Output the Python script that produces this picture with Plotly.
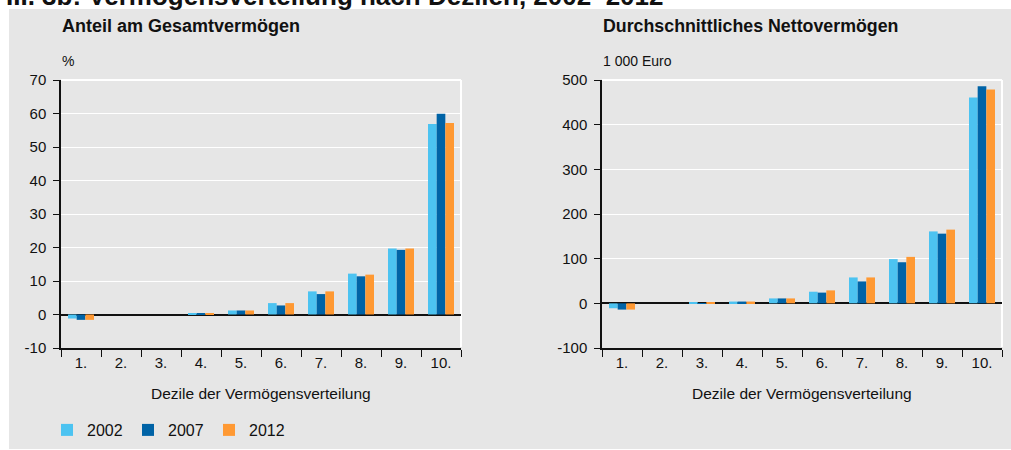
import plotly.graph_objects as go

W, H = 1011, 450

deciles = ["1.", "2.", "3.", "4.", "5.", "6.", "7.", "8.", "9.", "10."]
years = ["2002", "2007", "2012"]

share_2002 = [-1.2, 0.0, 0.0, 0.4, 1.2, 3.4, 6.9, 12.2, 19.7, 56.9]
share_2007 = [-1.6, 0.0, 0.0, 0.4, 1.2, 2.7, 6.1, 11.4, 19.3, 59.9]
share_2012 = [-1.6, 0.0, 0.0, 0.4, 1.2, 3.4, 6.9, 11.9, 19.7, 57.2]

nw_2002 = [-11, 0, 1, 4, 11, 26, 58, 99, 161, 461]
nw_2007 = [-14, 0, 0.5, 4, 11, 24, 49, 92, 156, 486]
nw_2012 = [-14, 0, 1, 4, 11, 29, 58, 104, 165, 479]

share_ticks = [-10, 0, 10, 20, 30, 40, 50, 60, 70]
share_tick_labels = ["-10", "0", "10", "20", "30", "40", "50", "60", "70"]
nw_ticks = [-100, 0, 100, 200, 300, 400, 500]
nw_tick_labels = ["-100", "0", "100", "200", "300", "400", "500"]

colors = ["#4cc3f1", "#0063a6", "#ff9933"]
FONT = "Liberation Sans, Arial, sans-serif"
BG = "#e6e6e6"

def px_x(p):
    return p / W

def px_y(p):
    return 1 - p / H

fig = go.Figure()
for name, vals, c in zip(years, [share_2002, share_2007, share_2012], colors):
    fig.add_trace(go.Bar(x=deciles, y=vals, name=name, marker=dict(color=c, line=dict(width=0)),
                         xaxis="x", yaxis="y", legendgroup=name))
for name, vals, c in zip(years, [nw_2002, nw_2007, nw_2012], colors):
    fig.add_trace(go.Bar(x=deciles, y=vals, name=name, marker=dict(color=c, line=dict(width=0)),
                         xaxis="x2", yaxis="y2", legendgroup=name, showlegend=False))

ydom = [px_y(348), px_y(80)]
xcommon = dict(type="category", tickson="boundaries", ticks="outside", ticklen=7, tickwidth=1.3,
               tickcolor="#111", showline=True, linecolor="#111", linewidth=1.5, showgrid=False,
               tickfont=dict(family=FONT, size=15, color="#111"), fixedrange=True, automargin=False)
ycommon = dict(ticks="outside", ticklen=6, tickwidth=1.3, tickcolor="#111", showline=True,
               linecolor="#111", linewidth=1.5, showgrid=True, gridcolor="white", gridwidth=1.3,
               zeroline=True, zerolinecolor="#111", zerolinewidth=1.5,
               tickfont=dict(family=FONT, size=15, color="#111"), ticklabelstandoff=4,
               fixedrange=True, automargin=False, tickmode="array")

fig.update_layout(
    width=W, height=H,
    margin=dict(l=0, r=0, t=0, b=0, pad=0, autoexpand=False),
    paper_bgcolor="white", plot_bgcolor=BG,
    barmode="group", bargap=0.35, bargroupgap=0,
    xaxis=dict(domain=[px_x(61), px_x(461)], anchor="y", **xcommon),
    yaxis=dict(domain=ydom, anchor="x", range=[-10, 70], tickvals=share_ticks,
               ticktext=share_tick_labels, **ycommon),
    xaxis2=dict(domain=[px_x(602), px_x(1002)], anchor="y2", **xcommon),
    yaxis2=dict(domain=ydom, anchor="x2", range=[-100, 500], tickvals=nw_ticks,
                ticktext=nw_tick_labels, **ycommon),
    legend=dict(orientation="h", x=px_x(47), y=px_y(430), yanchor="middle", xanchor="left",
                font=dict(family=FONT, size=16, color="#111"), bgcolor="rgba(0,0,0,0)",
                itemwidth=30, traceorder="normal", entrywidth=36, entrywidthmode="pixels"),
    showlegend=True,
)

shapes = [
    dict(type="rect", xref="paper", yref="paper", x0=px_x(9), x1=1, y0=px_y(449), y1=px_y(9),
         fillcolor=BG, line=dict(width=0), layer="below"),
]
for x1 in (461, 1002):
    shapes.append(dict(type="line", xref="paper", yref="paper", x0=px_x(x1), x1=px_x(x1),
                       y0=px_y(347), y1=px_y(80), line=dict(color="white", width=2), layer="below"))
for x0, x1 in ((61, 461), (602, 1002)):
    shapes.append(dict(type="line", xref="paper", yref="paper", x0=px_x(x0), x1=px_x(x1),
                       y0=px_y(80), y1=px_y(80), line=dict(color="white", width=2), layer="below"))
fig.update_layout(shapes=shapes)

ann = [
    dict(text="<b>III. 3b: Vermögensverteilung nach Dezilen, 2002–2012</b>", x=px_x(4), y=px_y(13),
         xanchor="left", yanchor="bottom", font=dict(family=FONT, size=26, color="#111")),
    dict(text="<b>Anteil am Gesamtvermögen</b>", x=px_x(60), y=px_y(26), xanchor="left", yanchor="middle",
         font=dict(family=FONT, size=18, color="#111")),
    dict(text="<b>Durchschnittliches Nettovermögen</b>", x=px_x(601), y=px_y(26), xanchor="left",
         yanchor="middle", font=dict(family=FONT, size=17.8, color="#111")),
    dict(text="%", x=px_x(60), y=px_y(61), xanchor="left", yanchor="middle",
         font=dict(family=FONT, size=14, color="#111")),
    dict(text="1 000 Euro", x=px_x(601), y=px_y(61), xanchor="left", yanchor="middle",
         font=dict(family=FONT, size=14, color="#111")),
    dict(text="Dezile der Vermögensverteilung", x=px_x(261), y=px_y(393), xanchor="center",
         yanchor="middle", font=dict(family=FONT, size=15.5, color="#111")),
    dict(text="Dezile der Vermögensverteilung", x=px_x(802), y=px_y(393), xanchor="center",
         yanchor="middle", font=dict(family=FONT, size=15.5, color="#111")),
]
for a in ann:
    a.update(xref="paper", yref="paper", showarrow=False)
fig.update_layout(annotations=ann)

fig.write_html("out.html")
